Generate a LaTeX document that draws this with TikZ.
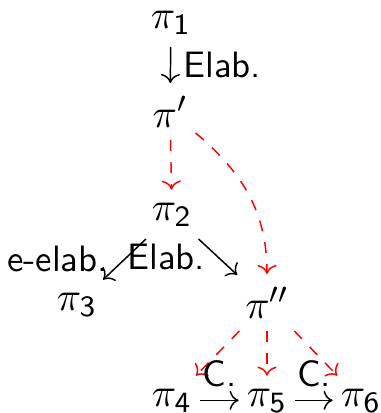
\documentclass[tikz,border=0pt]{standalone}
\usepackage{tikz}
\usetikzlibrary{arrows.meta}
\renewcommand{\familydefault}{\sfdefault}

\begin{document}
\begin{tikzpicture}[x=0.272pt, y=-0.272pt, every node/.style={font=\sffamily}, >={To},
	unit/.style={anchor=base, inner xsep=2pt, font=\fontsize{11.2}{13}\selectfont},
	redarr/.style={->, dashed, red}]
	\useasboundingbox (0,0) rectangle (380,413);
	% discourse units
	\node[unit] (p1) at (171,28) {$\pi_{\mathsf{1}}$};
	\node[unit] (pp) at (170,127) {$\pi'$};
	\node[unit] (p2) at (172,220) {$\pi_{\mathsf{2}}$};
	\node[unit] (p3) at (77,310) {$\pi_{\mathsf{3}}$};
	\node[unit] (ppp) at (267,318) {$\pi''$};
	\node[unit] (p4) at (172,406) {$\pi_{\mathsf{4}}$};
	\node[unit] (p5) at (267,406) {$\pi_{\mathsf{5}}$};
	\node[unit] (p6) at (361,406) {$\pi_{\mathsf{6}}$};
	% relations
	\draw[->] (p1) -- node[right] {Elab.} (pp);
	\draw[redarr] (pp) -- (p2);
	\draw[redarr] (pp) to[out=-40, in=90] (ppp);
	\draw[->] (p2) -- node[left, xshift=-1pt] {e-elab.} (p3);
	\draw[->] (p2) -- node[left] {Elab.} (ppp);
	\draw[redarr] (ppp) -- (p4);
	\draw[redarr] (ppp) -- (p5);
	\draw[redarr] (ppp) -- (p6);
	\draw[->] (p4) -- node[above] {C.} (p5);
	\draw[->] (p5) -- node[above] {C.} (p6);
\end{tikzpicture}
\end{document}
